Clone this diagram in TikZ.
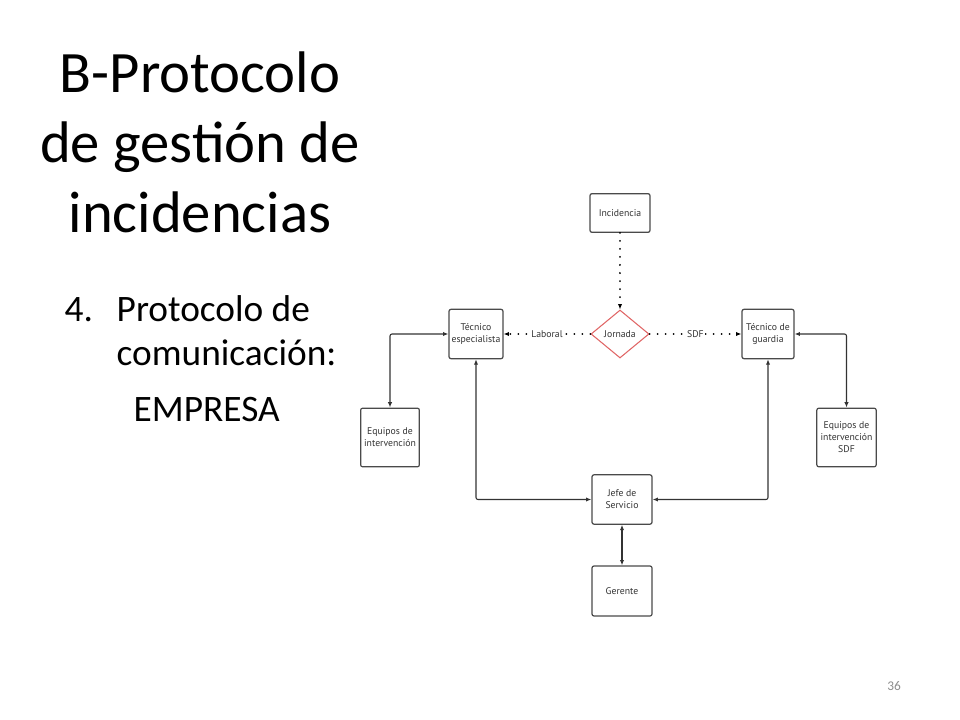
\documentclass[tikz,border=0pt]{standalone}
\usepackage{fontspec}
\setmainfont{Carlito}
\newfontfamily\flowfont{PT Sans}
\usetikzlibrary{shapes.geometric,arrows.meta}
\definecolor{boxline}{HTML}{4A4A4A}
\definecolor{wireline}{HTML}{333333}
\definecolor{jornadared}{HTML}{E06666}
\definecolor{pagegray}{HTML}{8C8C8C}
\tikzset{
  flowbox/.style={draw=boxline, line width=0.9pt, rounded corners=1.5pt, fill=white,
    align=center, inner sep=1pt, text=wireline,
    font=\flowfont\fontsize{7.3}{9}\selectfont},
  choice/.style={diamond, draw=jornadared, line width=0.8pt, inner sep=0pt, aspect=1.2,
    minimum width=43.5pt, minimum height=36pt, text=wireline,
    font=\flowfont\fontsize{7.3}{9}\selectfont},
  wire/.style={draw=wireline, line width=0.8pt, rounded corners=1.5pt},
  tip/.tip={Latex[length=4pt,width=3.2pt]},
  dotwire/.style={draw=black, line width=1.5pt, dash pattern=on 0.01pt off 6pt, line cap=round},
  onwire/.style={fill=white, inner sep=1pt, text=wireline,
    font=\flowfont\fontsize{7.3}{9}\selectfont}
}
\begin{document}
\begin{tikzpicture}[x=0.75pt,y=-0.75pt]
  \useasboundingbox (0,0) rectangle (960,720);

  % Slide text
  \node[align=center, font=\fontsize{44}{52.5}\selectfont] (title) at (200,142)
    {B-Protocolo\\de gestión de\\incidencias};
  \node[anchor=base west, font=\fontsize{28}{33}\selectfont] (num) at (60,321) {4.};
  \node[anchor=base west, align=left, font=\fontsize{28}{33}\selectfont] (item) at (112,321)
    {Protocolo de};
  \node[anchor=base west, font=\fontsize{28}{33}\selectfont] (item2) at (112,365)
    {comunicación:};
  \node[anchor=base west, font=\fontsize{28}{33}\selectfont] (firm) at (129,421) {EMPRESA};
  \node[text=pagegray, font=\fontsize{10}{12}\selectfont] (page) at (894,686) {36};

  % Boxes
  \node[flowbox, minimum width=45pt, minimum height=29pt] (inc) at (620,213) {Incidencia};
  \node[choice] (jor) at (620,334) {Jornada};
  \node[flowbox, minimum width=40.5pt, minimum height=37pt] (tesp) at (476,334) {Técnico\\especialista};
  \node[flowbox, minimum width=39pt, minimum height=37pt] (tgua) at (768,334) {Técnico de\\guardia};
  \node[flowbox, minimum width=44pt, minimum height=44pt] (equ) at (390,437.5) {Equipos de\\intervención};
  \node[flowbox, minimum width=44.5pt, minimum height=44pt] (equsdf) at (846.5,437.5) {Equipos de\\intervención\\SDF};
  \node[flowbox, minimum width=45pt, minimum height=37pt] (jefe) at (622,499.5) {Jefe de\\Servicio};
  \node[flowbox, minimum width=45pt, minimum height=37.5pt] (ger) at (622,591) {Gerente};

  % Dotted links
  \draw[dotwire, -tip] (inc.south) -- (jor.north);
  \draw[dotwire, -tip] (jor.west) -- node[onwire] (lab) {Laboral} (tesp.east);
  \draw[dotwire, -tip] (jor.east) -- node[onwire] (sdf) {SDF} (tgua.west);

  % Solid links
  \draw[wire, tip-tip] (tesp.west) -| (equ.north);
  \draw[wire, tip-tip] (tgua.east) -| (equsdf.north);
  \draw[wire, tip-tip] (tesp.south) |- (jefe.west);
  \draw[wire, tip-tip] (tgua.south) |- (jefe.east);
  \draw[wire, tip-tip] (jefe.south) -- (ger.north);
\end{tikzpicture}
\end{document}
